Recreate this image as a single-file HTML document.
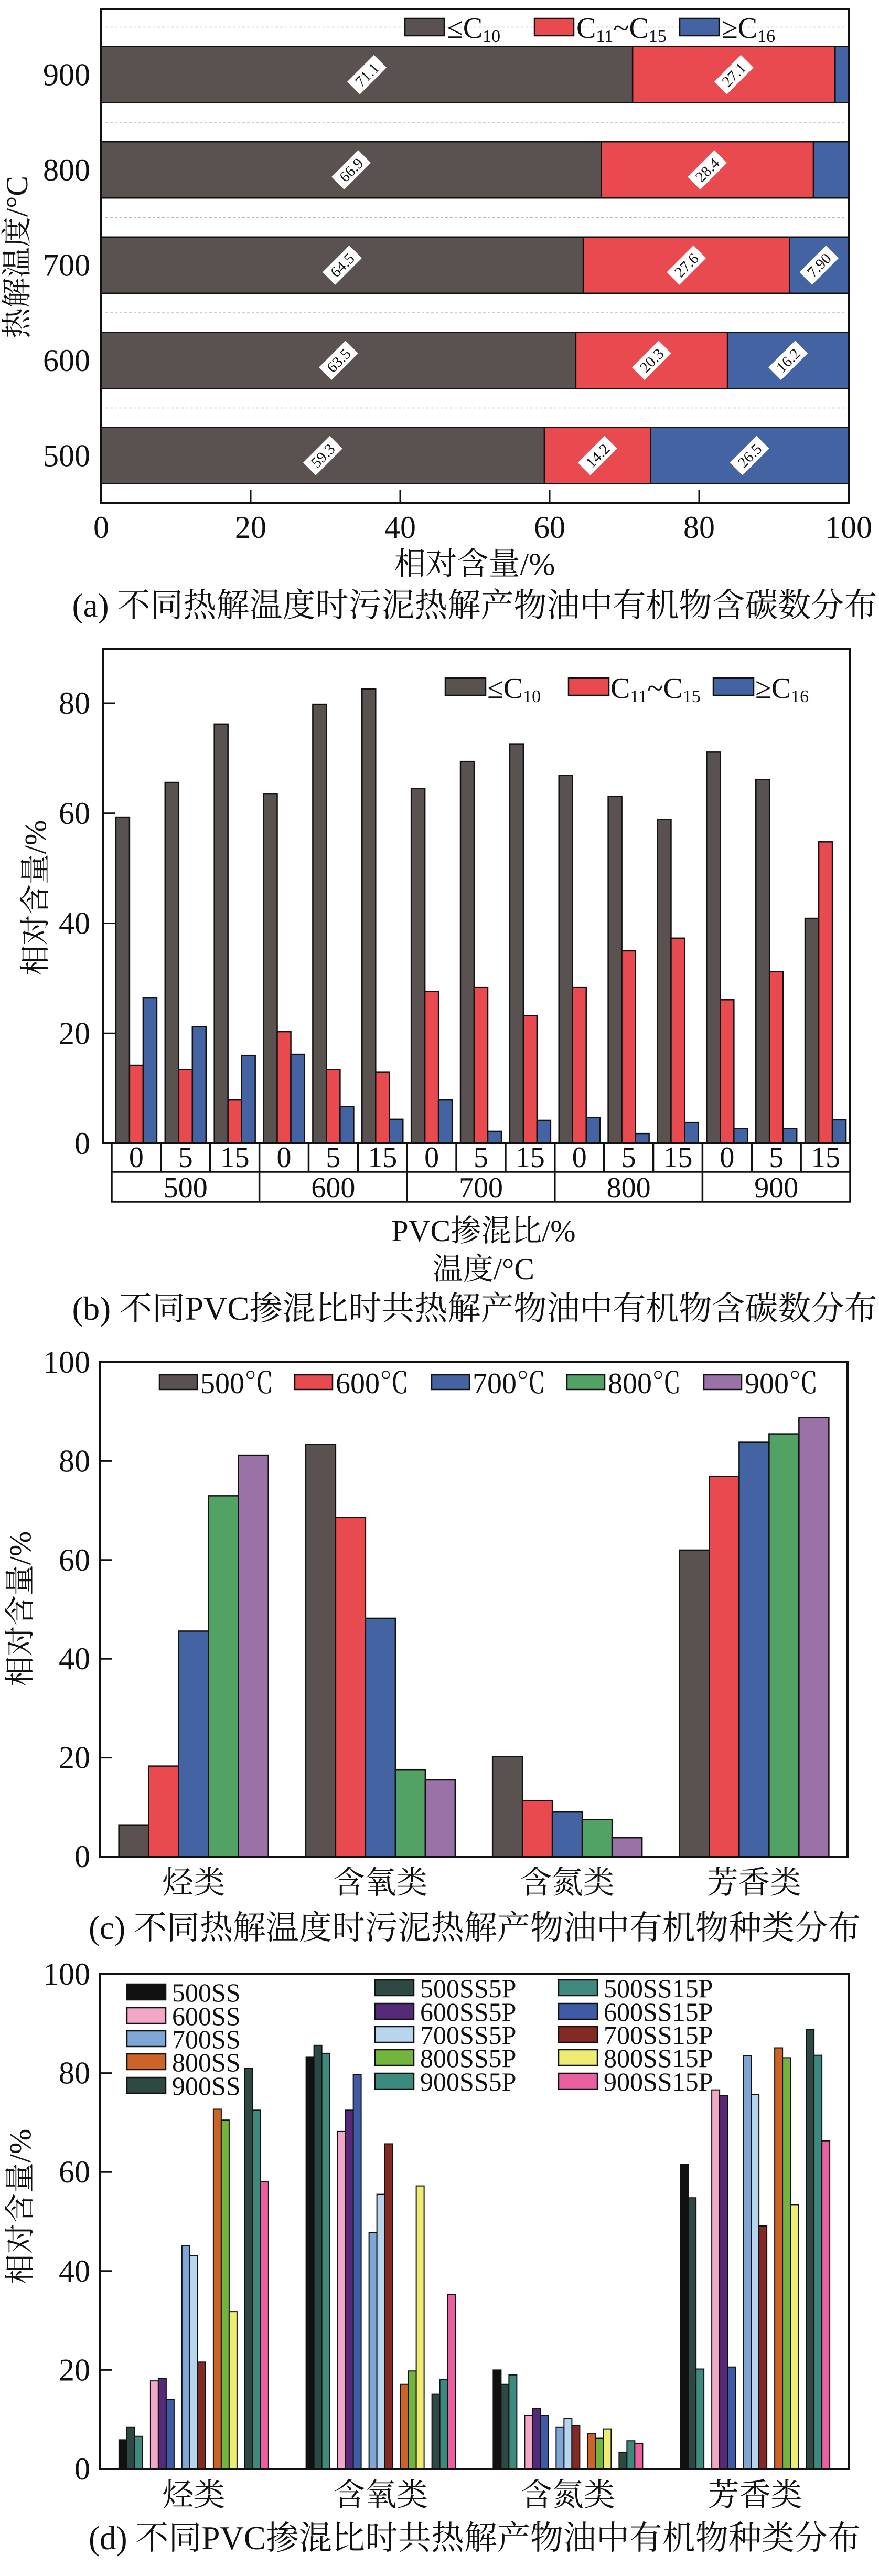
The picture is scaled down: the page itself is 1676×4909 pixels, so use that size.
<!DOCTYPE html>
<html><head><meta charset="utf-8">
<style>
html,body{margin:0;padding:0;background:#fff}
svg{display:block}
text{font-family:"Liberation Serif","Noto Serif CJK SC",serif;fill:#111}
</style></head>
<body>
<svg id="fig" width="1676" height="4909" viewBox="0 0 1676 4909" xmlns="http://www.w3.org/2000/svg">
<rect x="0" y="0" width="1676" height="4909" fill="#fff"/>
<g id="pa"></g>
<g id="pb"></g>
<g id="pc"></g>
<g id="pd"></g>
</svg>
<script>
// ---------- Panel (a) data ----------
const aCats = ["500","600","700","800","900"];
const aLow = [59.3,63.5,64.5,66.9,71.1];
const aMid = [14.2,20.3,27.6,28.4,27.1];
const aHigh = [26.5,16.2,7.9,4.7,1.8];
const aLabelsLow = ["59.3","63.5","64.5","66.9","71.1"];
const aLabelsMid = ["14.2","20.3","27.6","28.4","27.1"];
const aLabelsHigh = ["26.5","16.2","7.90","",""];
const aTicks = [0,20,40,60,80,100];
// ---------- Panel (b) data ----------
const bTemps = ["500","600","700","800","900"];
const bRatios = ["0","5","15"];
const bLow = [59.3,65.6,76.2,63.5,79.8,82.6,64.5,69.4,72.6,66.9,63.1,58.9,71.1,66.1,40.9];
const bMid = [14.2,13.4,7.9,20.3,13.4,13.0,27.6,28.4,23.2,28.4,35.0,37.3,26.1,31.2,54.8];
const bHigh = [26.5,21.2,16.0,16.2,6.7,4.4,7.9,2.2,4.2,4.7,1.8,3.8,2.7,2.7,4.3];
const bTicks = [0,20,40,60,80];
// ---------- Panel (c) data ----------
const cCats = ["烃类","含氧类","含氮类","芳香类"];
const cSeriesNames = ["500℃","600℃","700℃","800℃","900℃"];
const c500 = [6.4,83.4,20.2,62.0];
const c600 = [18.3,68.6,11.3,76.9];
const c700 = [45.6,48.2,9.0,83.8];
const c800 = [73.0,17.6,7.5,85.5];
const c900 = [81.2,15.5,3.8,88.8];
const cTicks = [0,20,40,60,80,100];
// ---------- Panel (d) data ----------
const dCats = ["烃类","含氧类","含氮类","芳香类"];
const dSeriesNames = ["500SS","500SS5P","500SS15P","600SS","600SS5P","600SS15P","700SS","700SS5P","700SS15P","800SS","800SS5P","800SS15P","900SS","900SS5P","900SS15P"];
const dHydro = [5.9,8.4,6.6,17.8,18.3,14.0,45.1,43.1,21.6,72.7,70.5,31.8,81.0,72.5,58.0];
const dOxy = [83.2,85.6,84.0,68.2,72.5,79.7,47.8,55.5,65.7,17.1,19.8,57.2,15.1,18.1,35.3];
const dNitro = [20.0,17.1,19.0,10.8,12.2,10.8,8.4,10.2,8.8,7.1,6.2,8.1,3.4,5.7,5.2];
const dArom = [61.6,54.8,20.2,76.6,75.5,20.6,83.5,75.7,49.1,85.1,83.1,53.4,88.8,83.6,66.3];
const dTicks = [0,20,40,60,80,100];

const NS="http://www.w3.org/2000/svg";
function mk(tag,attrs,parent){const e=document.createElementNS(NS,tag);for(const k in attrs)e.setAttribute(k,attrs[k]);parent.appendChild(e);return e;}
function txt(s,attrs,parent){const e=mk("text",attrs,parent);e.textContent=s;return e;}
const GRAY="#595250",RED="#e84a4f",BLUE="#4463a3",GREEN="#52a266",PURPLE="#9b72a8";

// ================= Panel A =================
(function(){
const g=document.getElementById("pa");
const L=193,R=1618,T=18,B=959,band=181.5,bh=107;
const xs=v=>L+v*(R-L)/100;
const yc=i=>B-(i+0.5)*band;
// gridlines
for(let i=0;i<5;i++){const y=B-(i+1)*band;
 const gl=mk("line",{x1:L+8,x2:R-8,y1:y,y2:y,stroke:"#bbb","stroke-width":1.5,"stroke-dasharray":"5,4"},g);
 
 }
const series=[[aLow,GRAY,aLabelsLow,"low"],[aMid,RED,aLabelsMid,"mid"],[aHigh,BLUE,aLabelsHigh,"high"]];
for(let i=0;i<aCats.length;i++){
 let acc=0;
 for(const [arr,col,labs,nm] of series){
  const v=arr[i];const x0=xs(acc),x1=xs(Math.min(acc+v,100));
  const r=mk("rect",{x:x0,y:yc(i)-bh/2,width:x1-x0,height:bh,fill:col,stroke:"#111","stroke-width":2.5},g);
  
  
  if(labs[i]){
   const cx=(x0+x1)/2,cy=yc(i);
   const lg=mk("g",{transform:`translate(${cx},${cy}) rotate(-45)`},g);
   
   
   mk("rect",{x:-36,y:-17,width:72,height:34,fill:"#fff"},lg);
   txt(labs[i],{x:0,y:10,"text-anchor":"middle","font-size":29},lg);
  }
  acc+=v;
 }
 const yl=txt(aCats[i],{x:172,y:yc(i)+20,"text-anchor":"end","font-size":60},g);
 
 
}
const fr=mk("rect",{x:L,y:T,width:R-L,height:B-T,fill:"none",stroke:"#111","stroke-width":4},g);


for(const t of aTicks){const x=xs(t);
 if(t>0&&t<100){const tk=mk("line",{x1:x,x2:x,y1:B,y2:B-26,stroke:"#111","stroke-width":3},g);
 
 }
 const tl=txt(String(t),{x:x,y:1025,"text-anchor":"middle","font-size":60},g);
 
 }
const xt=txt("相对含量/%",{x:905,y:1095,"text-anchor":"middle","font-size":60},g);


const yt=txt("热解温度/°C",{x:0,y:0,"text-anchor":"middle","font-size":58,transform:"translate(52,490) rotate(-90)"},g);


// legend
const leg=mk("g",{},g);


const items=[[772,GRAY,"≤C","10","",""],[1019,RED,"C","11","~C","15"],[1296,BLUE,"≥C","16","",""]];
for(const [x,col,a,s1,b,s2] of items){
 const bx=mk("rect",{x:x,y:35,width:75,height:33,fill:col,stroke:"#111","stroke-width":2.5},leg);
 
 
 const t=txt("",{x:x+80,y:72,"font-size":56},leg);
 
 
 const t1=mk("tspan",{},t);t1.textContent=a;
 const t2=mk("tspan",{"font-size":34,dy:8},t);t2.textContent=s1;
 if(b){const t3=mk("tspan",{dy:-8},t);t3.textContent=b;const t4=mk("tspan",{"font-size":34,dy:8},t);t4.textContent=s2;}
}
const cap=txt("(a) 不同热解温度时污泥热解产物油中有机物含碳数分布",{x:905,y:1175,"text-anchor":"middle","font-size":63},g);


})();

// ================= Panel B =================
(function(){
const g=document.getElementById("pb");
const L=197,R=1621,T=1237,B=2179,TL=213,unit=(2179-1340)/80;
const ys=v=>B-v*unit;
const colW=(R-TL)/15,bw=26;
const sets=[[bLow,GRAY,"low"],[bMid,RED,"mid"],[bHigh,BLUE,"high"]];
for(let i=0;i<15;i++){
 const gx=TL+i*colW+(colW-3*bw)/2;
 sets.forEach(([arr,col,nm],k)=>{
  const r=mk("rect",{x:gx+k*bw,y:ys(arr[i]),width:bw,height:arr[i]*unit,fill:col,stroke:"#111","stroke-width":2.5},g);
  
  
 });
}
const fr=mk("rect",{x:L,y:T,width:R-L,height:B-T,fill:"none",stroke:"#111","stroke-width":4},g);


for(const t of bTicks){const y=ys(t);
 if(t>0){const tk=mk("line",{x1:L,x2:L+22,y1:y,y2:y,stroke:"#111","stroke-width":3},g);
 
 }
 const tl=txt(String(t),{x:172,y:y+20,"text-anchor":"end","font-size":60},g);
 
 }
// table
const tb=mk("g",{},g);


const r1=2233,r2=2290;
mk("rect",{x:TL,y:B,width:R-TL,height:r2-B,fill:"none",stroke:"#111","stroke-width":3.5},tb);
mk("line",{x1:TL,x2:R,y1:r1,y2:r1,stroke:"#111","stroke-width":3.5},tb);
for(let i=1;i<15;i++){const x=TL+i*colW;mk("line",{x1:x,x2:x,y1:B,y2:(i%3==0)?r2:r1,stroke:"#111","stroke-width":3.5},tb);}
for(let i=0;i<15;i++){const l=txt(bRatios[i%3],{x:TL+(i+0.5)*colW,y:r1-9,"text-anchor":"middle","font-size":56},tb);
 
 }
for(let j=0;j<5;j++){const l=txt(bTemps[j],{x:TL+(j*3+1.5)*colW,y:r2-8,"text-anchor":"middle","font-size":56},tb);
 
 }
const x1t=txt("PVC掺混比/%",{x:922,y:2365,"text-anchor":"middle","font-size":58},g);


const x2t=txt("温度/°C",{x:922,y:2438,"text-anchor":"middle","font-size":58},g);


const yt=txt("相对含量/%",{x:0,y:0,"text-anchor":"middle","font-size":58,transform:"translate(87,1711) rotate(-90)"},g);


const leg=mk("g",{},g);


const items=[[849,GRAY,"≤C","10","",""],[1084,RED,"C","11","~C","15"],[1360,BLUE,"≥C","16","",""]];
for(const [x,col,a,s1,b,s2] of items){
 const bx=mk("rect",{x:x,y:1292,width:77,height:33,fill:col,stroke:"#111","stroke-width":2.5},leg);
 
 
 const t=txt("",{x:x+80,y:1330,"font-size":56},leg);
 
 
 const t1=mk("tspan",{},t);t1.textContent=a;
 const t2=mk("tspan",{"font-size":34,dy:8},t);t2.textContent=s1;
 if(b){const t3=mk("tspan",{dy:-8},t);t3.textContent=b;const t4=mk("tspan",{"font-size":34,dy:8},t);t4.textContent=s2;}
}
const cap=txt("(b) 不同PVC掺混比时共热解产物油中有机物含碳数分布",{x:905,y:2515,"text-anchor":"middle","font-size":63},g);


})();

// ================= Panel C =================
(function(){
const g=document.getElementById("pc");
const L=191,R=1616,T=2596,B=3538,unit=(B-T)/100;
const ys=v=>B-v*unit;
const band=(R-L)/4,bw=57;
const series=[c500,c600,c700,c800,c900];
const cols=[GRAY,RED,BLUE,GREEN,PURPLE];
for(let i=0;i<4;i++){
 const cx=L+(i+0.5)*band,x0=cx-2.5*bw;
 series.forEach((arr,k)=>{
  const r=mk("rect",{x:x0+k*bw,y:ys(arr[i]),width:bw,height:arr[i]*unit,fill:cols[k],stroke:"#111","stroke-width":2.5},g);
  
  
 });
 const xl=txt(cCats[i],{x:cx,y:3608,"text-anchor":"middle","font-size":60},g);
 
 
}
const fr=mk("rect",{x:L,y:T,width:R-L,height:B-T,fill:"none",stroke:"#111","stroke-width":4},g);


for(const t of cTicks){const y=ys(t);
 if(t>0&&t<100){const tk=mk("line",{x1:L,x2:L+22,y1:y,y2:y,stroke:"#111","stroke-width":3},g);
 
 }
 const tl=txt(String(t),{x:172,y:y+20,"text-anchor":"end","font-size":60},g);
 
 }
const yt=txt("相对含量/%",{x:0,y:0,"text-anchor":"middle","font-size":58,transform:"translate(58,3066) rotate(-90)"},g);


const leg=mk("g",{},g);


const lx=[304,562,823,1081,1342];
cSeriesNames.forEach((n,k)=>{
 const bx=mk("rect",{x:lx[k],y:2620,width:72,height:28,fill:cols[k],stroke:"#111","stroke-width":2.5},leg);
 
 
 const t=txt(n,{x:lx[k]+78,y:2655,"font-size":56},leg);
 
 
});
const cap=txt("(c) 不同热解温度时污泥热解产物油中有机物种类分布",{x:905,y:3695,"text-anchor":"middle","font-size":63},g);


})();

// ================= Panel D =================
(function(){
const g=document.getElementById("pd");
const L=191,R=1618,T=3762,B=4705,unit=(B-T)/100;
const ys=v=>B-v*unit;
const band=(R-L)/4,bw=15,pitch=60;
const cats=[dHydro,dOxy,dNitro,dArom];
const cols=["#111111","#2e4843","#3e8a7e","#f2a7c6","#552a78","#3f5ba6","#7ea6d6","#b8d5ee","#832a24","#cc6427","#72b43c","#eeec72","#2e4843","#3c8a7e","#ea5f9e"];
for(let i=0;i<4;i++){
 const cx=L+(i+0.5)*band,x0=cx-(5*pitch-15)/2;
 const arr=cats[i];
 for(let k=0;k<15;k++){
  const x=x0+Math.floor(k/3)*pitch+(k%3)*bw;
  const r=mk("rect",{x:x,y:ys(arr[k]),width:bw,height:arr[k]*unit,fill:cols[k],stroke:"#111","stroke-width":2},g);
  
  
 }
 const xl=txt(dCats[i],{x:cx,y:4775,"text-anchor":"middle","font-size":60},g);
 
 
}
const fr=mk("rect",{x:L,y:T,width:R-L,height:B-T,fill:"none",stroke:"#111","stroke-width":4},g);


for(const t of dTicks){const y=ys(t);
 if(t>0&&t<100){const tk=mk("line",{x1:L,x2:L+22,y1:y,y2:y,stroke:"#111","stroke-width":3},g);
 
 }
 const tl=txt(String(t),{x:172,y:y+20,"text-anchor":"end","font-size":60},g);
 
 }
const yt=txt("相对含量/%",{x:0,y:0,"text-anchor":"middle","font-size":58,transform:"translate(58,4205) rotate(-90)"},g);


const leg=mk("g",{},g);


// legend order: column 1 = SS series, column 2 = SS5P, column 3 = SS15P
const colX=[242,715,1065];
const colY=[[3796,3841,3885,3929,3974],[3788,3833,3877,3921,3966],[3788,3833,3877,3921,3966]];
for(let k=0;k<15;k++){
 const c=k%3,r=Math.floor(k/3);
 const bx=mk("rect",{x:colX[c],y:colY[c][r]-15,width:74,height:30,fill:cols[k],stroke:"#111","stroke-width":2.5},leg);
 
 
 const t=txt(dSeriesNames[k],{x:colX[c]+86,y:colY[c][r]+18,"font-size":50},leg);
 
 
}
const cap=txt("(d) 不同PVC掺混比时共热解产物油中有机物种类分布",{x:905,y:4858,"text-anchor":"middle","font-size":63},g);


})();
</script>
</body></html>
